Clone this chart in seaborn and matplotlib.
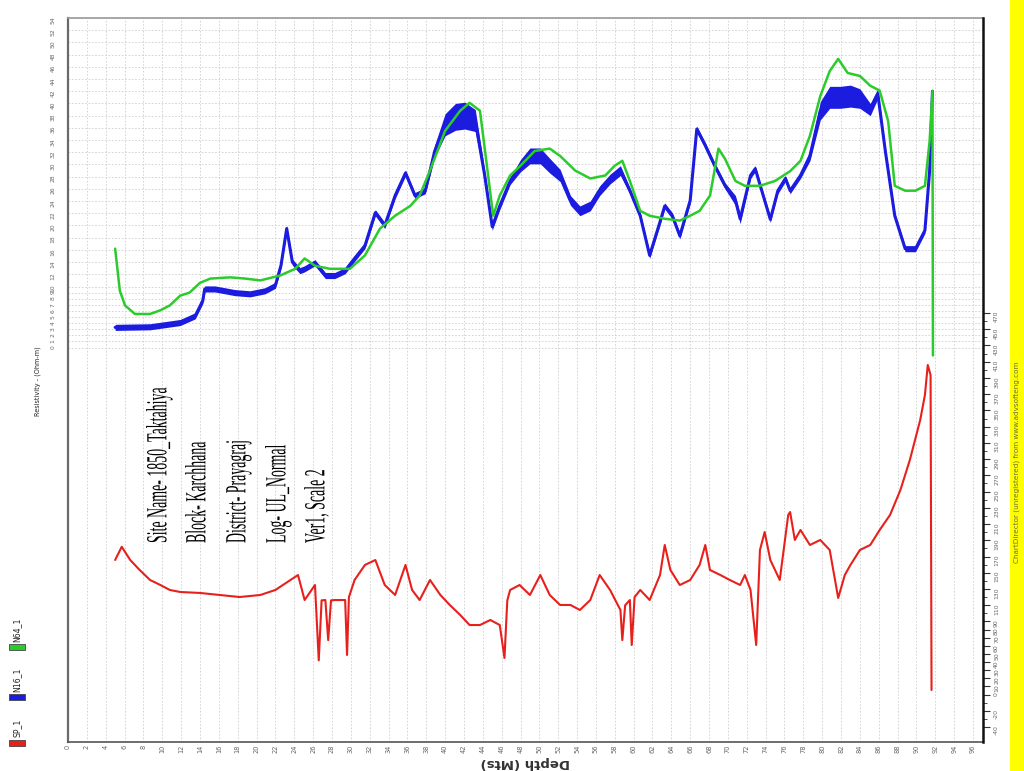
import numpy as np
import pandas as pd
import matplotlib as mpl
mpl.use('Agg')
import matplotlib.pyplot as plt
import seaborn as sns
from matplotlib import font_manager
from matplotlib.patches import Rectangle
from matplotlib.patheffects import AbstractPathEffect
from matplotlib.transforms import Affine2D

# N16 (blue) resistivity, Ohm-m, with half width of its noisy band
n16_depth = [5.0, 8.7, 11.9, 13.5, 14.3, 14.5, 15.6, 17.7, 19.3, 20.9, 22.0, 22.6, 23.2, 23.8, 24.6, 25.1, 26.2,
             27.3, 28.3, 29.4, 30.4, 31.5, 32.6, 33.6, 34.7, 35.8, 36.8, 37.9, 38.9, 40.0, 41.1, 42.1, 43.2, 44.2,
             45.0, 45.8, 46.9, 48.0, 49.0, 50.1, 51.1, 52.2, 53.3, 54.3, 55.4, 56.4, 57.5, 58.6, 59.6, 60.7, 61.7,
             62.8, 63.3, 64.1, 64.9, 66.0, 66.7, 67.6, 68.6, 69.7, 70.8, 71.3, 72.4, 72.9, 73.9, 74.5, 75.3, 76.1,
             76.6, 77.7, 78.7, 79.8, 80.8, 81.9, 83.0, 84.0, 85.1, 85.9, 86.7, 87.7, 88.8, 89.9, 90.9, 91.4, 91.7]
n16_res = [3.3, 3.4, 4.1, 5.2, 7.7, 9.6, 9.6, 9.0, 8.8, 9.3, 10.2, 13.5, 19.5, 14.0, 12.6, 12.9, 13.9,
           11.8, 11.8, 12.6, 14.6, 16.7, 22.1, 20.0, 24.9, 28.6, 24.9, 25.7, 32.2, 36.5, 37.8, 38.0, 37.2, 28.2,
           19.8, 23.2, 27.3, 29.8, 31.4, 31.4, 29.8, 28.2, 24.1, 22.4, 23.2, 25.7, 27.6, 29.0, 25.7, 21.6, 15.1,
           20.6, 23.2, 21.6, 18.3, 24.1, 35.8, 33.1, 29.8, 26.5, 24.1, 21.1, 28.2, 29.3, 24.1, 21.0, 25.7, 27.7,
           25.7, 28.2, 31.4, 38.8, 41.0, 41.0, 41.2, 40.8, 39.0, 41.6, 32.2, 21.6, 16.2, 16.2, 19.2, 29.0, 42.0]
n16_spread = [0.5, 0.5, 0.5, 0.5, 0.5, 0.5, 0.5, 0.5, 0.5, 0.5, 0.5, 0.5, 0.5, 0.5, 0.5, 0.5, 0.5,
              0.5, 0.5, 0.5, 0.5, 0.5, 0.5, 0.5, 0.5, 0.5, 0.5, 0.5, 1.0, 1.8, 2.2, 2.2, 1.8, 0.8,
              0.6, 0.6, 0.6, 1.0, 1.3, 1.3, 1.2, 1.0, 0.8, 0.8, 0.8, 0.8, 0.8, 0.8, 0.5, 0.5, 0.5,
              0.5, 0.5, 0.5, 0.5, 0.5, 0.5, 0.5, 0.5, 0.5, 0.8, 0.8, 0.5, 0.5, 0.5, 0.5, 0.5, 0.5,
              0.5, 0.5, 0.8, 1.5, 1.8, 1.8, 1.8, 1.6, 1.0, 0.8, 0.5, 0.5, 0.5, 0.5, 0.5, 0.5, 0.5]

# N64 (green) resistivity, Ohm-m
n64_depth = [5.0, 5.5, 6.05, 7.1, 8.7, 9.8, 10.8, 11.9, 12.9, 14.0, 15.1, 17.2, 18.8, 20.4, 22.5, 24.1, 25.1,
             26.2, 27.8, 29.9, 31.5, 33.1, 34.7, 36.3, 37.3, 38.4, 40.0, 41.6, 42.6, 43.7, 44.5, 45.1, 45.8,
             46.9, 48.0, 49.5, 51.1, 52.2, 53.8, 55.4, 57.0, 58.0, 58.8, 59.6, 60.7, 61.7, 63.3, 64.9, 66.0,
             67.0, 68.1, 69.0, 69.7, 70.8, 71.8, 73.4, 75.0, 76.6, 77.7, 78.7, 79.8, 80.8, 81.7, 82.7, 84.0,
             85.1, 86.1, 87.0, 87.7, 88.8, 89.9, 90.9, 91.4, 91.7, 91.75]
n64_res = [16.2, 9.3, 6.9, 5.5, 5.5, 6.1, 6.9, 8.5, 9.0, 10.6, 11.3, 11.5, 11.3, 11.0, 11.8, 12.9, 14.6,
           13.4, 12.9, 12.9, 15.1, 19.5, 21.6, 23.2, 24.9, 29.0, 35.5, 38.8, 40.1, 38.8, 29.0, 21.6, 24.9,
           28.2, 29.8, 32.2, 32.6, 31.4, 29.0, 27.7, 28.2, 29.8, 30.6, 27.3, 22.4, 21.6, 21.1, 20.8, 21.6,
           22.4, 24.9, 32.6, 30.9, 27.3, 26.5, 26.5, 27.3, 28.9, 30.6, 34.7, 41.2, 45.3, 47.3, 45.0, 44.5,
           42.9, 42.1, 37.1, 26.5, 25.7, 25.7, 26.5, 33.9, 42.0, -1.3]

# SP (red), mV
sp_depth = [5.0, 5.7, 6.6, 7.6, 8.7, 9.8, 10.8, 11.9, 14.0, 16.1, 18.2, 20.4, 22.0, 23.6, 24.4, 25.1, 26.2,
            26.6, 26.9, 27.3, 27.6, 27.9, 28.3, 29.4, 29.6, 29.8, 30.4, 31.5, 32.6, 33.6, 34.7, 35.8, 36.5,
            37.3, 38.4, 39.5, 40.5, 41.6, 42.6, 43.7, 44.8, 45.8, 46.3, 46.6, 46.9, 47.9, 49.0, 50.1, 51.1,
            52.2, 53.3, 54.3, 55.4, 56.4, 57.5, 58.6, 58.8, 59.1, 59.6, 59.8, 60.1, 60.7, 61.7, 62.8, 63.3,
            63.9, 64.9, 66.0, 67.0, 67.6, 68.1, 69.2, 70.2, 71.3, 71.8, 72.4, 73.0, 73.4, 73.9, 74.5, 75.5,
            76.4, 76.6, 77.1, 77.7, 78.7, 79.8, 80.8, 81.7, 82.4, 83.0, 84.0, 85.1, 86.1, 87.2, 88.3, 89.3,
            90.4, 90.9, 91.2, 91.5, 91.6]
sp_mv = [165.7, 182.0, 165.7, 153.4, 141.1, 134.9, 128.8, 126.3, 125.1, 122.6, 120.1, 122.6, 128.8, 141.1,
         147.2, 116.4, 134.9, 42.0, 116.0, 116.4, 67.0, 116.0, 116.4, 116.4, 48.7, 120.0, 141.1, 159.6,
         165.7, 134.9, 122.6, 159.6, 128.8, 116.4, 141.1, 122.6, 110.3, 98.0, 85.6, 85.6, 91.8, 85.6, 45.0,
         116.0, 128.8, 134.9, 122.6, 147.2, 122.6, 110.3, 110.3, 104.1, 116.4, 147.2, 128.8, 104.1, 67.0,
         110.0, 116.4, 61.0, 120.0, 128.8, 116.4, 147.2, 184.2, 153.4, 134.9, 141.1, 159.6, 184.2, 153.4,
         147.2, 141.1, 134.9, 147.2, 128.8, 61.0, 178.0, 200.2, 165.7, 141.1, 221.2, 224.8, 190.4, 202.7,
         184.2, 190.4, 178.0, 118.9, 147.2, 159.6, 178.0, 184.2, 202.7, 221.2, 252.0, 288.9, 338.2, 369.0,
         405.9, 393.6, 5.6]

depth_ticks = list(range(0, 97, 2))
res_ticks = [0, 1, 2, 3, 4, 5, 6, 7, 8, 9, 10] + list(range(12, 55, 2))
sp_ticks = [-40, -20, 0, 10, 20, 30, 40, 50, 60, 70, 80, 90] + list(range(110, 471, 20))
sp_minor = [-30, -10] + list(range(100, 461, 20))

series_names = ['SP_1', 'N16_1', 'N64_1']
site_lines = ['Site Name- 1850_Taktahiya', 'Block- Karchhana', 'District- Prayagraj',
              'Log- UL_Normal', 'Ver1, Scale 2']

RED, BLUE, GREEN = '#e8201c', '#1c1ce0', '#2ccb2c'
W, H = 1024, 771


def fx(px):
    return px / W


def fy(py):
    return 1 - py / H


class Stretch(AbstractPathEffect):
    # stretches glyphs sideways (the original text is a tall condensed face)
    def __init__(self, sx, cx):
        super().__init__()
        self.sx, self.cx = sx, cx

    def draw_path(self, renderer, gc, tpath, affine, rgbFace=None):
        t = affine + Affine2D().translate(-self.cx, 0).scale(self.sx, 1).translate(self.cx, 0)
        renderer.draw_path(gc, tpath, t, rgbFace)


sns.set_style('white')
plt.rcParams['font.family'] = ['DejaVu Sans']
installed = {f.name for f in font_manager.fontManager.ttflist}
narrow = 'Liberation Sans Narrow' if 'Liberation Sans Narrow' in installed else 'DejaVu Sans'
is_narrow = narrow != 'DejaVu Sans'

fig = plt.figure(figsize=(10.24, 7.71), dpi=100)
ax = fig.add_axes([fx(68), fy(742), (983 - 68) / W, (742 - 18) / H])
ax2 = ax.twinx()

n16 = pd.DataFrame({'depth': n16_depth, 'res': n16_res, 'spread': n16_spread})
n64 = pd.DataFrame({'depth': n64_depth, 'res': n64_res})
sp = pd.DataFrame({'depth': sp_depth, 'mv': sp_mv})

ax.fill_between(n16['depth'], n16['res'] - n16['spread'], n16['res'] + n16['spread'],
                color=BLUE, lw=0, zorder=2)
sns.lineplot(data=n16, x='depth', y='res', ax=ax, color=BLUE, lw=2.2, estimator=None, sort=False, zorder=3)
sns.lineplot(data=n64, x='depth', y='res', ax=ax, color=GREEN, lw=1.8, estimator=None, sort=False, zorder=4)
sns.lineplot(data=sp, x='depth', y='mv', ax=ax2, color=RED, lw=1.5, estimator=None, sort=False)

ax.set_xlim(0, 97.06)
ax.set_ylim(-64.64, 53.84)
ax2.set_ylim(-58.5, 833.4)
for a in (ax, ax2):
    a.set_xlabel('')
    a.set_ylabel('')

ax.set_xticks(depth_ticks)
ax.set_xticklabels([str(d) for d in depth_ticks])
ax.set_yticks(res_ticks)
ax.set_yticklabels([str(r) for r in res_ticks])
ax.tick_params(axis='x', length=0, pad=2, labelsize=4.8, labelcolor='#666666', labelrotation=90)
ax.tick_params(axis='y', length=0, pad=9, labelsize=4.3, labelcolor='#666666', labelrotation=90)

ax2.set_yticks(sp_ticks)
ax2.set_yticklabels([str(v) for v in sp_ticks])
ax2.set_yticks(sp_minor, minor=True)
ax2.tick_params(axis='y', which='major', direction='out', length=5, width=0.8, color='#333333',
                pad=3, labelsize=4.4, labelcolor='#666666', labelrotation=90)
ax2.tick_params(axis='y', which='minor', direction='out', length=3, width=0.6, color='#333333')

ax.grid(True, axis='both', color='#cfcfcf', ls=(0, (2, 2)), lw=0.6)
ax.set_axisbelow(True)
ax2.grid(False)

for s in ('top', 'bottom', 'left', 'right'):
    ax2.spines[s].set_visible(False)
ax.spines['right'].set_visible(False)
ax.spines['left'].set(color='#6b6b6b', lw=1.6)
ax.spines['top'].set(color='#9a9a9a', lw=1.2)
ax.spines['bottom'].set(color='#555555', lw=1.2)
ax2.spines['right'].set_visible(True)
ax2.spines['right'].set(color='#111111', lw=1.8)

# titles of the rotated log
fig.text(fx(38), fy(381), 'Resistivity - (Ohm-m)', rotation=90, ha='center', va='center',
         fontsize=6 if is_narrow else 4.7, family=narrow, color='#222222')
fig.text(fx(525), fy(762), 'Depth (Mts)', rotation=180, ha='center', va='center',
         fontsize=9.5, fontweight='bold', color='#333333')

# legend drawn by hand, rotated with the chart
legend_colors = [RED, BLUE, GREEN]
legend_box_y = [740, 694, 644]
legend_text_y = [737, 692, 642]
for name, c, by, ty in zip(series_names, legend_colors, legend_box_y, legend_text_y):
    fig.add_artist(Rectangle((fx(9), fy(by + 6)), 16 / W, 6 / H, transform=fig.transFigure,
                             facecolor=c, edgecolor='#444444', lw=0.6))
    fig.text(fx(17), fy(ty), name, rotation=90, ha='center', va='bottom',
             fontsize=6.5 if is_narrow else 5.6, family=narrow, color='#222222')

# site information written inside the SP track
col_x = [159, 198, 238, 278, 317]
for line, cx in zip(site_lines, col_x):
    t = fig.text(fx(cx), fy(543), line, rotation=90, ha='center', va='bottom',
                 fontsize=10, family='Liberation Serif', color='black')
    t.set_path_effects([Stretch(2.1, cx)])

# yellow strip with the watermark
fig.add_artist(Rectangle((fx(1010), 0), 1 - fx(1010), 1, transform=fig.transFigure,
                         facecolor='#ffff00', edgecolor='none', zorder=0))
fig.text(fx(1017), fy(563), 'ChartDirector (unregistered) from www.advsofteng.com', rotation=90,
         ha='center', va='bottom', fontsize=5.2, color='#6e6e3a')

fig.savefig('out.png', dpi=100)
